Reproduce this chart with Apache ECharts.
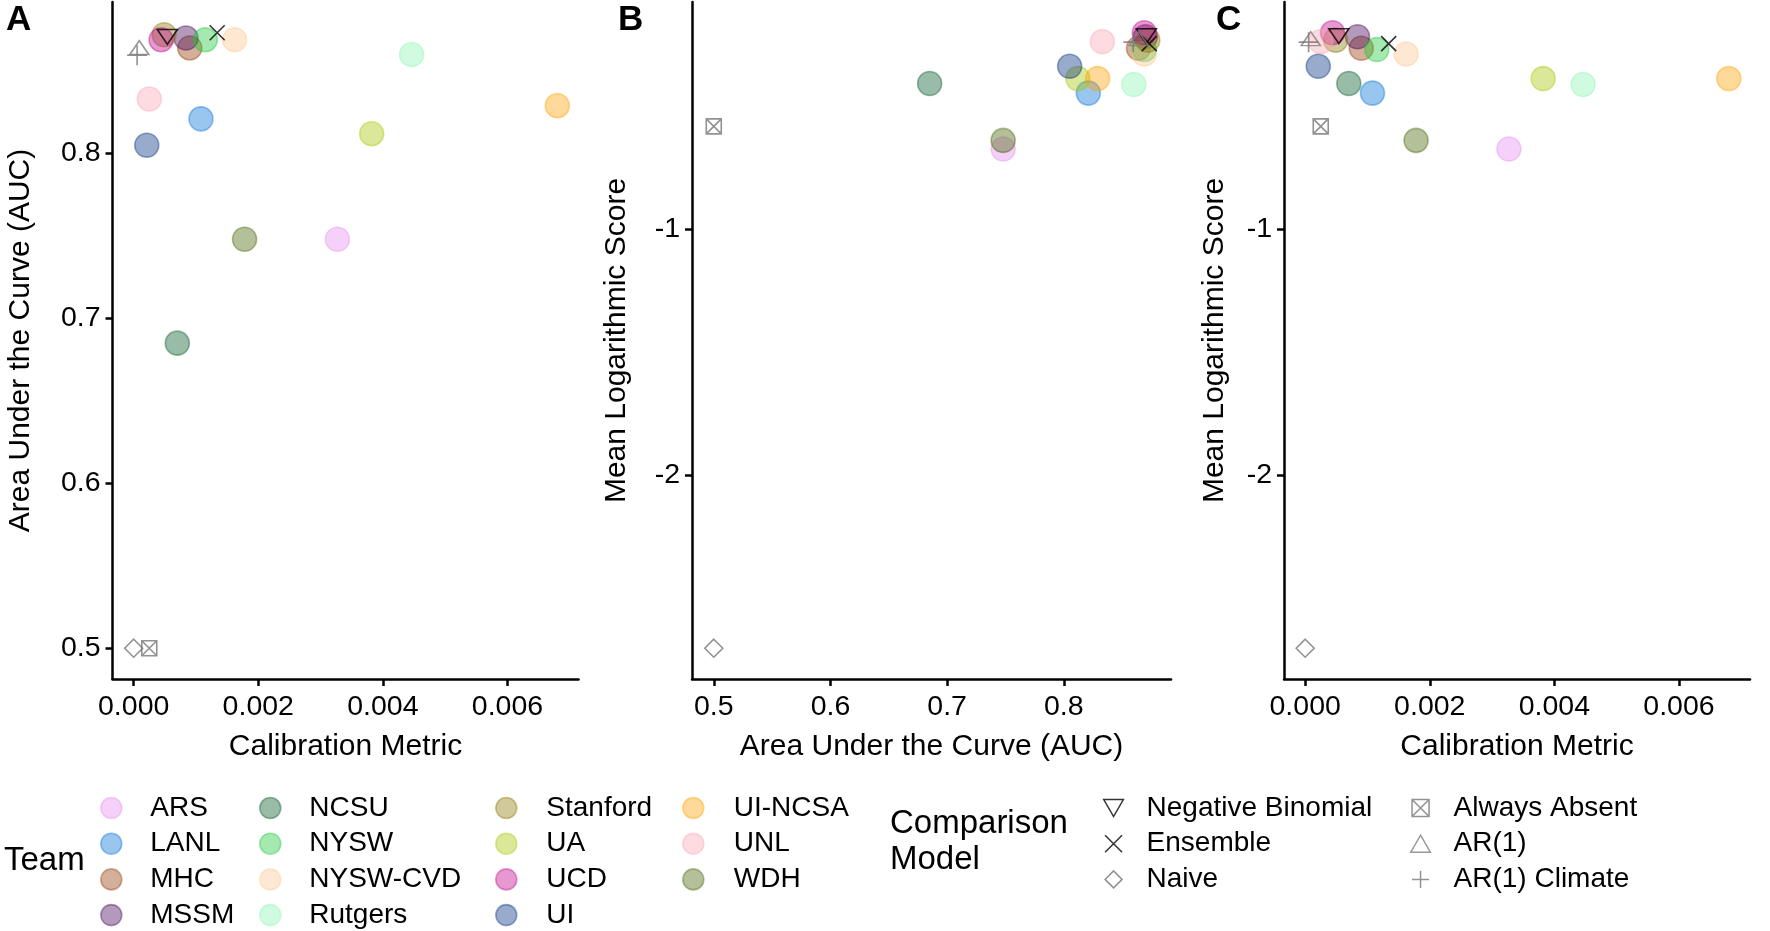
<!DOCTYPE html>
<html><head><meta charset="utf-8">
<script src="https://cdn.jsdelivr.net/npm/echarts@6/dist/echarts.min.js"></script>
<style>html,body{margin:0;padding:0;background:#fff}#c{width:1770px;height:931px}</style>
</head><body><div id="c"></div>
<script>
// ---------- data ----------
const teams = ['ARS','LANL','MHC','MSSM','NCSU','NYSW','NYSW-CVD','Rutgers','Stanford','UA','UCD','UI','UI-NCSA','UNL','WDH'];
const teamColors = ['#e58def','#0071d7','#933700','#410057','#005729','#1bc737','#ffc591','#8bf5b1','#8b7705','#a7c500','#c10089','#002d7f','#ff9f00','#fba5b5','#416100'];
const teamCalibration = [0.00327,0.00108,0.00090,0.00084,0.00070,0.00115,0.00162,0.00446,0.00049,0.00382,0.00044,0.00021,0.00680,0.00025,0.00178];
const teamAUC = [0.748,0.821,0.864,0.870,0.685,0.869,0.869,0.860,0.872,0.812,0.869,0.805,0.829,0.833,0.748];
const teamLogScore = [-0.676,-0.449,-0.267,-0.220,-0.410,-0.272,-0.290,-0.414,-0.234,-0.390,-0.204,-0.340,-0.390,-0.240,-0.641];

const models = ['Negative Binomial','Ensemble','Naive','Always Absent','AR(1)','AR(1) Climate'];
const modelColors = ['#000000','#000000','#777777','#777777','#808080','#777777'];
const modelCalibration = [0.00054,0.00134,0,0.00025,0.00009,0.000055];
const modelAUC = [0.8707,0.8732,0.5,0.5,0.8642,0.8596];
const modelLogScore = [-0.218,-0.248,-2.703,-0.584,-0.228,-0.242];

const calTicks = [0,0.002,0.004,0.006];
const aucTicks = [0.5,0.6,0.7,0.8];
const logTicks = [-2,-1];

// ---------- styling ----------
const FONT = '"Liberation Sans", Arial, Helvetica, sans-serif';
const modelSymbols = [
  'path://M0,0L20,0L10,17.32Z',
  'path://M0,0L10,10M10,0L0,10',
  'path://M10,0L20,10L10,20L0,10Z',
  'path://M0,0L10,0L10,10L0,10ZM0,0L10,10M10,0L0,10',
  'path://M10,0L20,17.32L0,17.32Z',
  'path://M10,0L10,20M0,10L20,10'
];
const modelSizes = [[20,17],15,18,15,[19,16],20];

function rgba(hex, a){
  const n = parseInt(hex.slice(1),16);
  return 'rgba(' + ((n>>16)&255) + ',' + ((n>>8)&255) + ',' + (n&255) + ',' + a + ')';
}
function expand(vals){
  const mn = Math.min(...vals), mx = Math.max(...vals), r = mx - mn;
  return [mn - 0.05*r, mx + 0.05*r];
}
const calRange = expand(teamCalibration.concat(modelCalibration));
const aucRange = expand(teamAUC.concat(modelAUC));
const logRange = expand(teamLogScore.concat(modelLogScore));

const grids = [
  {left:112.5, top:2, width:466, height:677},
  {left:692, top:2, width:479, height:677},
  {left:1284, top:2, width:466, height:677}
];

function mkAxis(gridIndex, range, ticks, fmt, name, gap, isY){
  return {
    type:'value', gridIndex, min:range[0], max:range[1],
    name, nameLocation:'middle', nameGap:gap,
    nameTextStyle:{fontSize:30, fontFamily:FONT, color:'#000'},
    axisLine:{show:true, onZero:false, lineStyle:{color:'#000', width:2.5}},
    axisTick:{show:true, length:7, lineStyle:{color:'#000', width:2.5}, customValues:ticks},
    axisLabel:{show:true, fontSize:28.5, fontFamily:FONT, color:'#000', margin:isY?12:14,
               customValues:ticks, formatter:fmt, showMinLabel:true, showMaxLabel:true},
    splitLine:{show:false}
  };
}
const fmtCal = v => v.toFixed(3);
const fmtAuc = v => v.toFixed(1);
const fmtLog = v => String(Math.round(v));

const xAxis = [
  mkAxis(0, calRange, calTicks, fmtCal, 'Calibration Metric', 53, false),
  mkAxis(1, aucRange, aucTicks, fmtAuc, 'Area Under the Curve (AUC)', 53, false),
  mkAxis(2, calRange, calTicks, fmtCal, 'Calibration Metric', 53, false)
];
const yAxis = [
  mkAxis(0, aucRange, aucTicks, fmtAuc, 'Area Under the Curve (AUC)', 77, true),
  mkAxis(1, logRange, logTicks, fmtLog, 'Mean Logarithmic Score', 60, true),
  mkAxis(2, logRange, logTicks, fmtLog, 'Mean Logarithmic Score', 54, true)
];

const panels = [
  [teamCalibration, teamAUC, modelCalibration, modelAUC],
  [teamAUC, teamLogScore, modelAUC, modelLogScore],
  [teamCalibration, teamLogScore, modelCalibration, modelLogScore]
];

const series = [];
panels.forEach((p, pi) => {
  teams.forEach((t, i) => {
    series.push({
      type:'scatter', name:t, xAxisIndex:pi, yAxisIndex:pi,
      data:[[p[0][i], p[1][i]]],
      symbol:'circle', symbolSize:24, z:2, silent:true,
      itemStyle:{color:rgba(teamColors[i],0.5), borderColor:rgba(teamColors[i],0.5), borderWidth:1.6},
      emphasis:{disabled:true}
    });
  });
});
panels.forEach((p, pi) => {
  models.forEach((m, i) => {
    series.push({
      type:'scatter', name:m, xAxisIndex:pi, yAxisIndex:pi,
      data:[[p[2][i], p[3][i]]],
      symbol:modelSymbols[i], symbolSize:modelSizes[i], symbolKeepAspect:true, z:3, silent:true,
      itemStyle:{color:'rgba(0,0,0,0)', borderColor:modelColors[i], borderWidth:1.6},
      emphasis:{disabled:true}
    });
  });
});

const teamCols = [[0,1,2,3],[4,5,6,7],[8,9,10,11],[12,13,14]];
const teamColX = [100, 259, 495, 682];
const teamItemW = [68, 68, 70, 71];
const legend = teamCols.map((col, ci) => ({
  orient:'vertical', left:teamColX[ci], top:793, padding:0,
  itemWidth:teamItemW[ci], itemHeight:21, itemGap:5.7, selectedMode:false,
  itemStyle:{borderWidth:1.6},
  textStyle:{fontSize:28, fontFamily:FONT, color:'#000', lineHeight:30},
  data:col.map(i => ({name:teams[i], icon:'circle'}))
}));
const modelCols = [[0,1,2],[3,4,5]];
const modelColX = [1103, 1410];
modelCols.forEach((col, ci) => legend.push({
  orient:'vertical', left:modelColX[ci], top:793, padding:0,
  itemWidth:56, itemHeight:17, itemGap:5.7, selectedMode:false,
  itemStyle:{borderWidth:1.5},
  textStyle:{fontSize:28, fontFamily:FONT, color:'#000', lineHeight:30},
  data:col.map(i => ({name:models[i], icon:modelSymbols[i]}))
}));

const letterStyle = {fontSize:35, fontWeight:'bold', fontFamily:FONT, color:'#000'};
const option = {
  animation:false,
  backgroundColor:'#fff',
  title:[
    {text:'A', left:6, top:3, padding:0, textStyle:letterStyle},
    {text:'B', left:618, top:3, padding:0, textStyle:letterStyle},
    {text:'C', left:1216, top:3, padding:0, textStyle:letterStyle},
    {text:'Team', left:4, top:844, padding:0, textStyle:{fontSize:33, fontWeight:'normal', fontFamily:FONT, color:'#000'}},
    {text:'Comparison\nModel', left:890, top:806, padding:0, textStyle:{fontSize:33, fontWeight:'normal', fontFamily:FONT, color:'#000', lineHeight:36}}
  ],
  grid:grids.map(g => Object.assign({containLabel:false, outerBoundsMode:'none'}, g)),
  xAxis, yAxis, legend, series
};
const chart = echarts.init(document.getElementById('c'));
chart.setOption(option);
</script>
</body></html>
